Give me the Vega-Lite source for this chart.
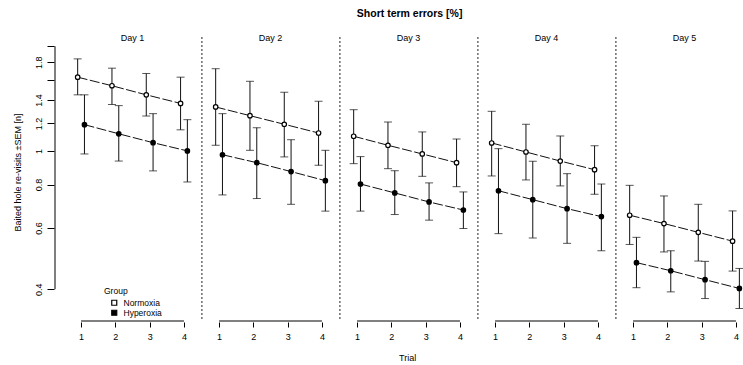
{
  "$schema": "https://vega.github.io/schema/vega-lite/v6.json",
  "autosize": {"type": "pad"},
  "padding": {"left": 12, "top": 8, "right": 0, "bottom": 4},
  "config": {
    "font": "Liberation Sans",
    "view": {"stroke": null},
    "facet": {"spacing": 0},
    "axis": {"grid": false, "domain": false, "tickColor": "#000", "labelColor": "#000", "titleColor": "#000", "labelFontSize": 9, "titleFontSize": 9, "titleFontWeight": "normal"}
  },
  "title": {"text": "Short term errors [%]", "fontSize": 10.5, "fontWeight": "bold", "anchor": "middle", "frame": "bounds", "dx": 31, "offset": 15, "color": "#000"},
  "data": {"values": [
    {"Day": "Day 1", "Trial": 1, "Group": "Normoxia", "mean": 1.63, "lo": 1.45, "hi": 1.84},
    {"Day": "Day 1", "Trial": 2, "Group": "Normoxia", "mean": 1.54, "lo": 1.36, "hi": 1.73},
    {"Day": "Day 1", "Trial": 3, "Group": "Normoxia", "mean": 1.45, "lo": 1.26, "hi": 1.67},
    {"Day": "Day 1", "Trial": 4, "Group": "Normoxia", "mean": 1.37, "lo": 1.15, "hi": 1.63},
    {"Day": "Day 1", "Trial": 1, "Group": "Hyperoxia", "mean": 1.19, "lo": 0.98, "hi": 1.45},
    {"Day": "Day 1", "Trial": 2, "Group": "Hyperoxia", "mean": 1.12, "lo": 0.935, "hi": 1.35},
    {"Day": "Day 1", "Trial": 3, "Group": "Hyperoxia", "mean": 1.056, "lo": 0.876, "hi": 1.28},
    {"Day": "Day 1", "Trial": 4, "Group": "Hyperoxia", "mean": 1.0, "lo": 0.814, "hi": 1.23},
    {"Day": "Day 2", "Trial": 1, "Group": "Normoxia", "mean": 1.338, "lo": 1.038, "hi": 1.724},
    {"Day": "Day 2", "Trial": 2, "Group": "Normoxia", "mean": 1.263, "lo": 1.004, "hi": 1.586},
    {"Day": "Day 2", "Trial": 3, "Group": "Normoxia", "mean": 1.193, "lo": 0.961, "hi": 1.475},
    {"Day": "Day 2", "Trial": 4, "Group": "Normoxia", "mean": 1.126, "lo": 0.909, "hi": 1.389},
    {"Day": "Day 2", "Trial": 1, "Group": "Hyperoxia", "mean": 0.975, "lo": 0.747, "hi": 1.28},
    {"Day": "Day 2", "Trial": 2, "Group": "Hyperoxia", "mean": 0.925, "lo": 0.729, "hi": 1.166},
    {"Day": "Day 2", "Trial": 3, "Group": "Hyperoxia", "mean": 0.872, "lo": 0.702, "hi": 1.077},
    {"Day": "Day 2", "Trial": 4, "Group": "Hyperoxia", "mean": 0.821, "lo": 0.671, "hi": 1.004},
    {"Day": "Day 3", "Trial": 1, "Group": "Normoxia", "mean": 1.102, "lo": 0.919, "hi": 1.314},
    {"Day": "Day 3", "Trial": 2, "Group": "Normoxia", "mean": 1.038, "lo": 0.889, "hi": 1.211},
    {"Day": "Day 3", "Trial": 3, "Group": "Normoxia", "mean": 0.98, "lo": 0.845, "hi": 1.134},
    {"Day": "Day 3", "Trial": 4, "Group": "Normoxia", "mean": 0.925, "lo": 0.789, "hi": 1.082},
    {"Day": "Day 3", "Trial": 1, "Group": "Hyperoxia", "mean": 0.803, "lo": 0.671, "hi": 0.963},
    {"Day": "Day 3", "Trial": 2, "Group": "Hyperoxia", "mean": 0.757, "lo": 0.656, "hi": 0.877},
    {"Day": "Day 3", "Trial": 3, "Group": "Hyperoxia", "mean": 0.713, "lo": 0.632, "hi": 0.809},
    {"Day": "Day 3", "Trial": 4, "Group": "Hyperoxia", "mean": 0.676, "lo": 0.598, "hi": 0.762},
    {"Day": "Day 4", "Trial": 1, "Group": "Normoxia", "mean": 1.054, "lo": 0.847, "hi": 1.3},
    {"Day": "Day 4", "Trial": 2, "Group": "Normoxia", "mean": 0.993, "lo": 0.825, "hi": 1.193},
    {"Day": "Day 4", "Trial": 3, "Group": "Normoxia", "mean": 0.935, "lo": 0.793, "hi": 1.104},
    {"Day": "Day 4", "Trial": 4, "Group": "Normoxia", "mean": 0.883, "lo": 0.75, "hi": 1.035},
    {"Day": "Day 4", "Trial": 1, "Group": "Hyperoxia", "mean": 0.768, "lo": 0.578, "hi": 1.015},
    {"Day": "Day 4", "Trial": 2, "Group": "Hyperoxia", "mean": 0.724, "lo": 0.562, "hi": 0.934},
    {"Day": "Day 4", "Trial": 3, "Group": "Hyperoxia", "mean": 0.682, "lo": 0.542, "hi": 0.86},
    {"Day": "Day 4", "Trial": 4, "Group": "Hyperoxia", "mean": 0.647, "lo": 0.516, "hi": 0.803},
    {"Day": "Day 5", "Trial": 1, "Group": "Normoxia", "mean": 0.653, "lo": 0.538, "hi": 0.796},
    {"Day": "Day 5", "Trial": 2, "Group": "Normoxia", "mean": 0.618, "lo": 0.512, "hi": 0.742},
    {"Day": "Day 5", "Trial": 3, "Group": "Normoxia", "mean": 0.583, "lo": 0.482, "hi": 0.702},
    {"Day": "Day 5", "Trial": 4, "Group": "Normoxia", "mean": 0.55, "lo": 0.451, "hi": 0.672},
    {"Day": "Day 5", "Trial": 1, "Group": "Hyperoxia", "mean": 0.477, "lo": 0.404, "hi": 0.564},
    {"Day": "Day 5", "Trial": 2, "Group": "Hyperoxia", "mean": 0.452, "lo": 0.393, "hi": 0.516},
    {"Day": "Day 5", "Trial": 3, "Group": "Hyperoxia", "mean": 0.426, "lo": 0.376, "hi": 0.481},
    {"Day": "Day 5", "Trial": 4, "Group": "Hyperoxia", "mean": 0.402, "lo": 0.352, "hi": 0.459}
  ]},
  "facet": {
    "column": {
      "field": "Day", "type": "nominal", "title": "Trial",
      "header": {"labels": false, "titleOrient": "bottom", "titleFontSize": 9, "titleFontWeight": "normal", "titleAlign": "left", "titlePadding": 3, "titleColor": "#000"}
    }
  },
  "spacing": 0,
  "spec": {
    "width": 137.2,
    "height": 284,
    "encoding": {
      "x": {"field": "Trial", "type": "quantitative", "scale": {"domain": [0.24, 4.24], "nice": false, "zero": false},
            "axis": {"values": [1, 2, 3, 4], "format": "d", "tickSize": 5, "labelPadding": 5, "labelColor": "#000", "title": null}}
    },
    "layer": [
      {
        "transform": [{"filter": "datum.Day != 'Day 1' && datum.Trial == 1 && datum.Group == 'Normoxia'"}],
        "mark": {"type": "rule", "strokeDash": [2, 2], "color": "#222", "strokeWidth": 1},
        "encoding": {"x": {"datum": 0.5, "type": "quantitative"}}
      },
      {
        "transform": [{"filter": "datum.Day == 'Day 1' && datum.Trial == 1 && datum.Group == 'Normoxia'"}],
        "mark": {"type": "rule", "color": "#000", "strokeWidth": 1},
        "encoding": {"x": {"datum": 0.24, "type": "quantitative"}, "y": {"datum": 0.4, "type": "quantitative"}, "y2": {"datum": 2.0}}
      },
      {
        "transform": [{"filter": "datum.Trial == 1 && datum.Group == 'Normoxia'"}],
        "mark": {"type": "rule", "color": "#000", "strokeWidth": 1},
        "encoding": {"x": {"datum": 1, "type": "quantitative"}, "x2": {"datum": 4}, "y": {"datum": 0.324, "type": "quantitative"}}
      },
      {
        "transform": [{"filter": "datum.Trial == 1 && datum.Group == 'Normoxia'"}],
        "mark": {"type": "text", "fontSize": 9, "color": "#000", "baseline": "middle", "align": "center"},
        "encoding": {"x": {"datum": 2.5, "type": "quantitative"}, "y": {"datum": 2.11, "type": "quantitative"}, "text": {"field": "Day"}}
      },
      {
        "transform": [{"filter": "datum.Group == 'Normoxia'"}],
        "layer": [
          {
            "mark": {"type": "rule", "color": "#111", "strokeWidth": 1, "xOffset": -3.4},
            "encoding": {
              "y": {"field": "lo", "type": "quantitative", "scale": {"type": "log", "domain": [0.324, 2.127], "nice": false, "zero": false},
                    "axis": {"values": [0.4, 0.6, 0.8, 1.0, 1.2, 1.4, 1.6, 1.8, 2.0], "format": ".1~f", "labelExpr": "(datum.value > 1.55 && datum.value < 1.65) || datum.value > 1.95 ? '' : datum.label", "tickSize": 7, "labelAngle": -90, "labelAlign": "center", "labelBaseline": "bottom", "labelPadding": 4, "title": "Baited hole re-visits ±SEM [n]", "titlePadding": 12, "titleY": 135}},
              "y2": {"field": "hi"}
            }
          },
          {"mark": {"type": "tick", "orient": "horizontal", "size": 8, "thickness": 1, "color": "#111", "xOffset": -3.4}, "encoding": {"y": {"field": "hi", "type": "quantitative"}}},
          {"mark": {"type": "tick", "orient": "horizontal", "size": 8, "thickness": 1, "color": "#111", "xOffset": -3.4}, "encoding": {"y": {"field": "lo", "type": "quantitative"}}},
          {"mark": {"type": "line", "color": "#111", "strokeWidth": 1, "strokeDash": [10, 2.5], "xOffset": -3.4}, "encoding": {"y": {"field": "mean", "type": "quantitative"}}},
          {
            "mark": {"type": "point", "filled": true, "size": 20, "stroke": "#000", "strokeWidth": 1.2, "opacity": 1, "xOffset": -3.4},
            "encoding": {
              "y": {"field": "mean", "type": "quantitative"},
              "fill": {"field": "Group", "type": "nominal", "scale": {"domain": ["Normoxia", "Hyperoxia"], "range": ["#ffffff", "#000000"]},
                       "legend": {"orient": "none", "legendX": 49, "legendY": 250, "title": "Group", "symbolType": "square", "symbolSize": 25, "symbolStrokeColor": "#000", "symbolStrokeWidth": 1.2, "labelFontSize": 8.5, "titleFontSize": 8.5, "titleFontWeight": "normal", "titleColor": "#000", "labelColor": "#000", "rowPadding": -4, "padding": 0, "symbolOffset": 6, "labelOffset": 5, "titlePadding": 3}}
            }
          }
        ]
      },
      {
        "transform": [{"filter": "datum.Group == 'Hyperoxia'"}],
        "layer": [
          {"mark": {"type": "rule", "color": "#111", "strokeWidth": 1, "xOffset": 3.4}, "encoding": {"y": {"field": "lo", "type": "quantitative"}, "y2": {"field": "hi"}}},
          {"mark": {"type": "tick", "orient": "horizontal", "size": 8, "thickness": 1, "color": "#111", "xOffset": 3.4}, "encoding": {"y": {"field": "hi", "type": "quantitative"}}},
          {"mark": {"type": "tick", "orient": "horizontal", "size": 8, "thickness": 1, "color": "#111", "xOffset": 3.4}, "encoding": {"y": {"field": "lo", "type": "quantitative"}}},
          {"mark": {"type": "line", "color": "#111", "strokeWidth": 1, "strokeDash": [10, 2.5], "xOffset": 3.4}, "encoding": {"y": {"field": "mean", "type": "quantitative"}}},
          {
            "mark": {"type": "point", "filled": true, "size": 20, "stroke": "#000", "strokeWidth": 1.2, "opacity": 1, "xOffset": 3.4},
            "encoding": {
              "y": {"field": "mean", "type": "quantitative"},
              "fill": {"field": "Group", "type": "nominal"}
            }
          }
        ]
      }
    ]
  }
}
